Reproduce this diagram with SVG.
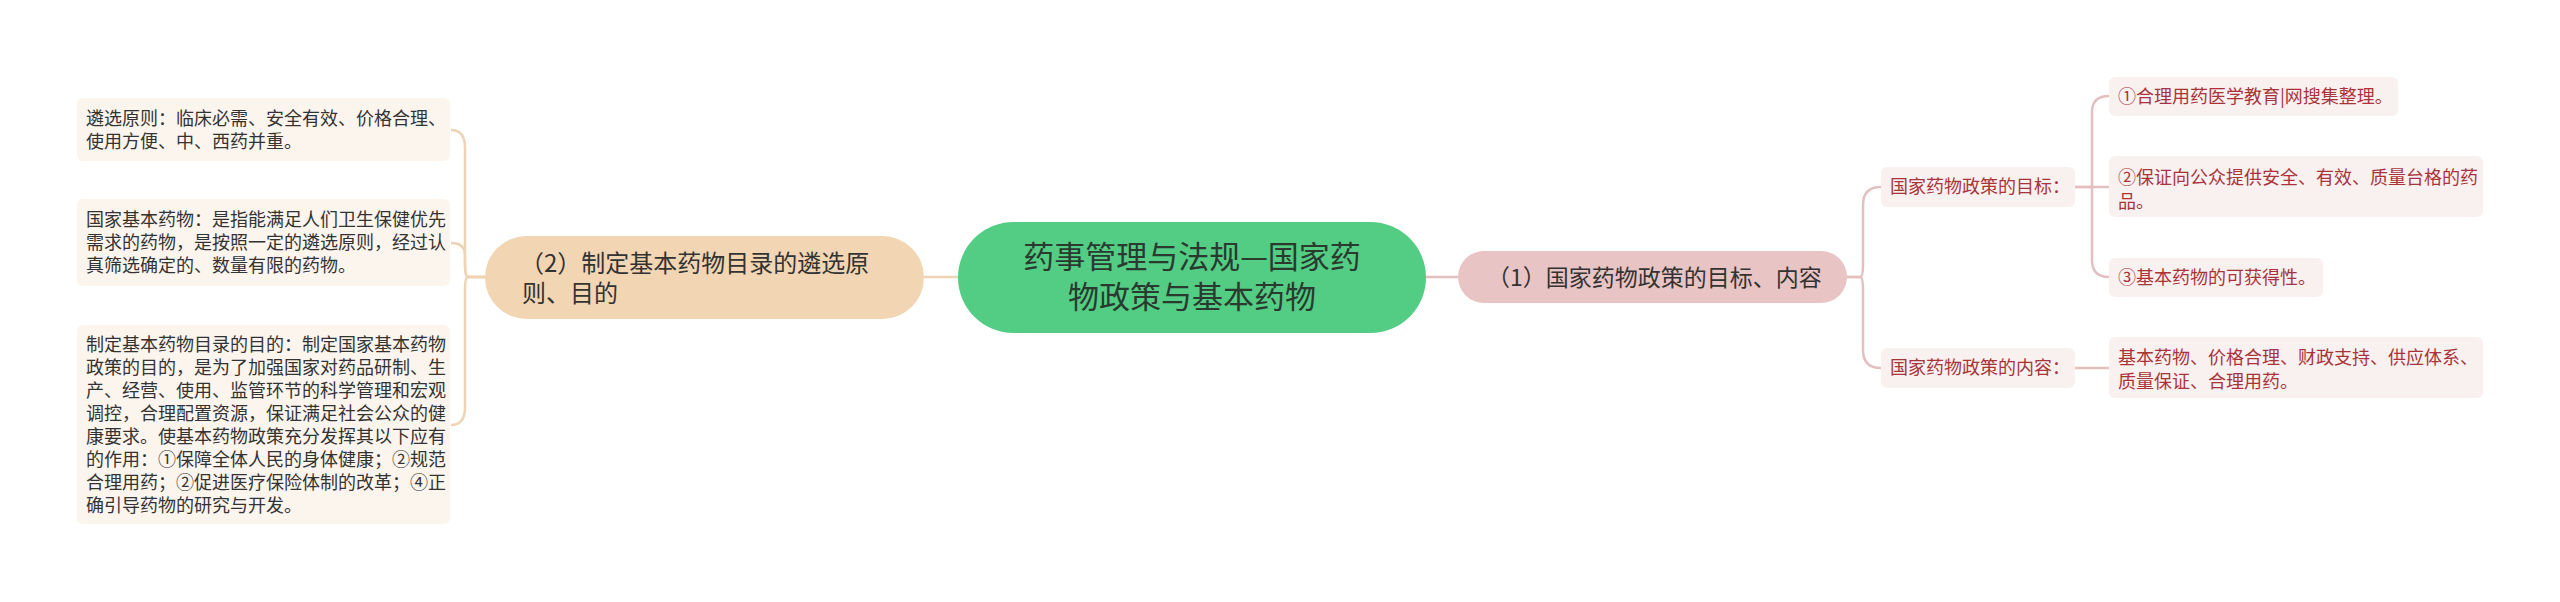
<svg xmlns="http://www.w3.org/2000/svg" width="2560" height="602" viewBox="0 0 2560 602">
<style>
text{font-family:"Noto Sans CJK SC","Noto Sans",sans-serif;}
.lc{fill:none;stroke:#efd3b5;stroke-width:2.5;}
.rc{fill:none;stroke:#e3c0c0;stroke-width:2.5;}
.lleaf{fill:#fcf5ee;}
.rleaf{fill:#f9f0f0;}
.lt{font-size:18px;fill:#333333;}
.rt{font-size:18px;fill:#a8343a;}
.mt{font-size:24px;fill:#333333;}
.ct{font-size:31px;fill:#2a3a2e;}
</style>
<rect width="2560" height="602" fill="#ffffff"/>
<g id="connectors">
<path class="lc" d="M924,277 L958,277"/>
<path class="rc" d="M1426,277 L1458,277"/>
<path class="lc" d="M485,277 L468,277 Q465,277 465,265 L465,148 Q465,130 451,130"/>
<path class="lc" d="M485,277 L468,277 Q465,277 465,262 L465,255 Q465,243 451,243"/>
<path class="lc" d="M485,277 L468,277 Q465,277 465,290 L465,407 Q465,425 451,425"/>
<path class="rc" d="M1847,277 L1860,277 Q1863,277 1863,265 L1863,205 Q1863,187 1881,187"/>
<path class="rc" d="M1847,277 L1860,277 Q1863,277 1863,290 L1863,350 Q1863,368 1881,368"/>
<path class="rc" d="M2075,187 L2092,187 L2092,112 Q2092,96 2109,96"/>
<path class="rc" d="M2075,187 L2109,187"/>
<path class="rc" d="M2092,187 L2092,260 Q2092,277 2109,277"/>
<path class="rc" d="M2075,368 L2109,368"/>
</g>
<g id="center">
<rect x="958" y="222" width="468" height="111" rx="55.5" fill="#53cc84"/>
<text class="ct" x="1192" y="268" text-anchor="middle">药事管理与法规—国家药</text>
<text class="ct" x="1192" y="308" text-anchor="middle">物政策与基本药物</text>
</g>
<g id="node1">
<rect x="1458" y="251" width="389" height="52" rx="26" fill="#e8c4c4"/>
<text class="mt" x="1487" y="286" style="font-size:23px">（1）国家药物政策的目标、内容</text>
</g>
<g id="node2">
<rect x="485" y="236" width="439" height="83" rx="41.5" fill="#f2d5b3"/>
<text class="mt" x="520" y="272">（2）制定基本药物目录的遴选原</text>
<text class="mt" x="522" y="302">则、目的</text>
</g>
<g id="leaf-l1">
<rect class="lleaf" x="77" y="98" width="373" height="63" rx="6"/>
<text class="lt" x="86" y="125">遴选原则：临床必需、安全有效、价格合理、</text>
<text class="lt" x="86" y="148">使用方便、中、西药并重。</text>
</g>
<g id="leaf-l2">
<rect class="lleaf" x="77" y="199" width="373" height="87" rx="6"/>
<text class="lt" x="86" y="226">国家基本药物：是指能满足人们卫生保健优先</text>
<text class="lt" x="86" y="249">需求的药物，是按照一定的遴选原则，经过认</text>
<text class="lt" x="86" y="272">真筛选确定的、数量有限的药物。</text>
</g>
<g id="leaf-l3">
<rect class="lleaf" x="77" y="325" width="373" height="199" rx="6"/>
<text class="lt" x="86" y="351">制定基本药物目录的目的：制定国家基本药物</text>
<text class="lt" x="86" y="374">政策的目的，是为了加强国家对药品研制、生</text>
<text class="lt" x="86" y="397">产、经营、使用、监管环节的科学管理和宏观</text>
<text class="lt" x="86" y="420">调控，合理配置资源，保证满足社会公众的健</text>
<text class="lt" x="86" y="443">康要求。使基本药物政策充分发挥其以下应有</text>
<text class="lt" x="86" y="466">的作用：①保障全体人民的身体健康；②规范</text>
<text class="lt" x="86" y="489">合理用药；②促进医疗保险体制的改革；④正</text>
<text class="lt" x="86" y="512">确引导药物的研究与开发。</text>
</g>
<g id="goal">
<rect class="rleaf" x="1881" y="167" width="194" height="40" rx="6"/>
<text class="rt" x="1890" y="193">国家药物政策的目标：</text>
</g>
<g id="content">
<rect class="rleaf" x="1881" y="348" width="194" height="40" rx="6"/>
<text class="rt" x="1890" y="374">国家药物政策的内容：</text>
</g>
<g id="goal1">
<rect class="rleaf" x="2109" y="77" width="289" height="39" rx="6"/>
<text class="rt" x="2118" y="103">①合理用药医学教育|网搜集整理。</text>
</g>
<g id="goal2">
<rect class="rleaf" x="2109" y="156" width="374" height="61" rx="6"/>
<text class="rt" x="2118" y="184">②保证向公众提供安全、有效、质量台格的药</text>
<text class="rt" x="2118" y="208">品。</text>
</g>
<g id="goal3">
<rect class="rleaf" x="2109" y="258" width="214" height="39" rx="6"/>
<text class="rt" x="2118" y="284">③基本药物的可获得性。</text>
</g>
<g id="content1">
<rect class="rleaf" x="2109" y="337" width="374" height="61" rx="6"/>
<text class="rt" x="2118" y="364">基本药物、价格合理、财政支持、供应体系、</text>
<text class="rt" x="2118" y="388">质量保证、合理用药。</text>
</g>
</svg>
